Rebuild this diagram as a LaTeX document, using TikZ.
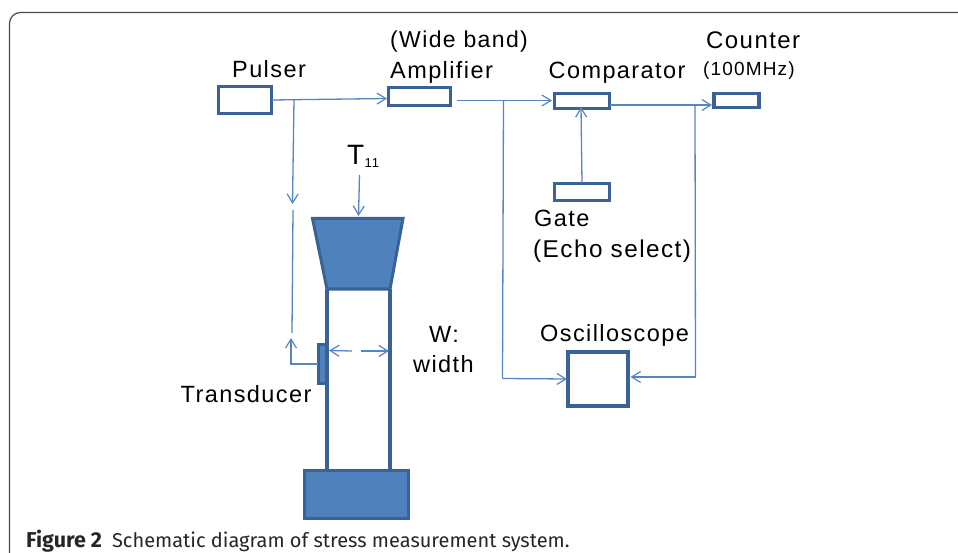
\documentclass[tikz,border=0pt]{standalone}
\usepackage{fontspec}
\setmainfont{Liberation Sans}[LetterSpace=6]
\newfontfamily\capfont{Fira Sans}
\usetikzlibrary{arrows.meta}
\definecolor{boxline}{HTML}{3A6294}
\definecolor{fillblue}{HTML}{4F81BD}
\definecolor{wire}{HTML}{5585C2}
\definecolor{framegrey}{HTML}{4A4A4A}
\tikzset{
  x=1pt,y=-1pt,
  unit/.style={draw=boxline,line width=3.3pt,fill=white,rectangle,inner sep=0pt,outer sep=0pt,anchor=north west},
  solidpart/.style={draw=boxline,line width=3pt,fill=fillblue},
  wirep/.style={draw=wire,line width=1.3pt},
  arr/.style={wirep,-{Straight Barb[length=9pt,width=11pt,line width=1.2pt]}},
  lab/.style={inner sep=0pt,text=black,font=\fontsize{23.5}{26}\selectfont,anchor=base west},
}
\begin{document}
\begin{tikzpicture}
\useasboundingbox (0,0) rectangle (958,553);
\draw[framegrey,line width=1.2pt,rounded corners=11pt] (9.5,553) -- (9.5,12.5) -- (958,12.5);

% units
\node[unit,minimum width=53pt,minimum height=27pt] (pulser) at (218.5,86.5) {};
\node[unit,minimum width=62pt,minimum height=18pt] (amp) at (388.5,87.5) {};
\node[unit,minimum width=55pt,minimum height=15pt] (comp) at (554.5,93.5) {};
\node[unit,minimum width=45pt,minimum height=14pt] (counter) at (714,93.5) {};
\node[unit,minimum width=55pt,minimum height=17pt] (gate) at (554.5,183.5) {};
\node[unit,minimum width=60pt,minimum height=54pt] (scope) at (568,352) {};

% specimen
\draw[boxline,line width=3.4pt] (327,289) -- (327,470);
\draw[boxline,line width=3.4pt] (390,289) -- (390,470);
\node[solidpart,rectangle,inner sep=0pt,outer sep=0pt,anchor=north west,minimum width=104pt,minimum height=48pt] (base) at (304.5,470.5) {};
\node[solidpart,rectangle,inner sep=0pt,outer sep=0pt,anchor=north west,minimum width=8pt,minimum height=39pt] (trans) at (318,344.5) {};
\draw[solidpart] (312.5,218.5) -- (403,218.5) -- (390,289) -- (327,289) -- cycle;

% coordinates
\coordinate (pout) at (272,100);
\coordinate (ain) at (387,98.5);
\coordinate (pj) at (294,99.5);
\coordinate (pa1) at (292.5,204);
\coordinate (pb0) at (293,210);
\coordinate (pb1) at (292,333);
\coordinate (tt) at (291,364);
\coordinate (ta) at (291,338);
\coordinate (aout) at (457,100.5);
\coordinate (cin) at (552,100.5);
\coordinate (aj) at (503.5,100.5);
\coordinate (ab) at (502.5,378.5);
\coordinate (sin) at (567,379);
\coordinate (cout) at (610,105);
\coordinate (ctin) at (712,105);
\coordinate (cj) at (695,105);
\coordinate (cb) at (695.5,377);
\coordinate (sin2) at (630.5,377);
\coordinate (gout) at (582,183);
\coordinate (cin2) at (581,107);
\coordinate (t0) at (359.5,175);
\coordinate (t1) at (358.5,216);
\coordinate (w0) at (352,351);
\coordinate (w1) at (329,350.5);
\coordinate (w2) at (361,351);
\coordinate (w3) at (389,351);

% connectors
\draw[arr] (pout) -- (ain);
\draw[arr] (pj) -- (pa1);
\draw[wirep] (pb0) -- (pb1);
\draw[arr] (trans.west |- tt) -- (tt) -- (ta);
\draw[arr] (aout) -- (cin);
\draw[wirep] (aj) -- (ab);
\draw[arr] (ab) -- (sin);
\draw[arr] (cout) -- (ctin);
\draw[wirep] (cj) -- (cb);
\draw[arr] (cb) -- (sin2);
\draw[arr] (gout) -- (cin2);
\draw[arr] (t0) -- (t1);
\draw[arr] (w0) -- (w1);
\draw[arr] (w2) -- (w3);

% labels
\node[lab] (lpulser) at (232,78) {Pulser};
\node[lab,font=\fontsize{23}{26}\selectfont] (lwide) at (390,48) {(Wide band)};
\node[lab] (lamp) at (390,79) {Amplifier};
\node[lab] (lcomp) at (548.5,79) {Comparator};
\node[lab,font=\fontsize{24}{26}\selectfont] (lcount) at (706,48.5) {Counter};
\node[lab,font=\fontsize{19}{21}\selectfont] (lmhz) at (703,75.5) {(100MHz)};
\node[lab] (lgate) at (534,227) {Gate};
\node[lab,font=\fontsize{24.3}{26}\selectfont] (lecho) at (533,257.5) {(Echo select)};
\node[lab] (lscope) at (540,341) {Oscilloscope};
\node[lab] (lw) at (429,342.5) {W:};
\node[lab] (lwidth) at (413,372) {width};
\node[lab] (ltrans) at (180.5,402.5) {Transducer};
\node[lab,font=\fontsize{28}{30}\selectfont] (ltt) at (347,165) {T};
\node[lab,font=\fontsize{13}{15}\selectfont] (lsub) at (364.5,168) {11};
\node[inner sep=0pt,anchor=base west,text=black!85,font=\capfont\fontsize{20}{22}\selectfont] (cap) at (26,547) {{\fontsize{21.5}{22}\selectfont\textbf{Figure 2}}\hspace{10pt}Schematic diagram of stress measurement system.};
\end{tikzpicture}
\end{document}
